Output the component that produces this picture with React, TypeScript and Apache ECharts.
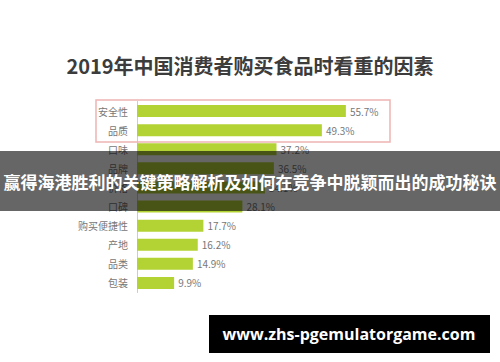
import React, { useEffect, useRef } from "react";
import * as echarts from "echarts";

const categories = ["安全性", "品质", "口味", "品牌", "价格", "口碑", "购买便捷性", "产地", "品类", "包装"];
const values = [55.7, 49.3, 37.2, 36.5, 34.1, 28.1, 17.7, 16.2, 14.9, 9.9];
const titleText = "2019年中国消费者购买食品时看重的因素";
const overlayText = "赢得海港胜利的关键策略解析及如何在竞争中脱颖而出的成功秘诀";
const footerText = "www.zhs-pgemulatorgame.com";

export default function App() {
  const ref = useRef<HTMLDivElement>(null);
  useEffect(() => {
    if (!ref.current) return;
    const chart = echarts.init(ref.current, null, { renderer: "svg" });
    chart.setOption({
      animation: false,
      backgroundColor: "#ffffff",
      title: {
        text: titleText,
        left: 245,
        top: 50,
        textAlign: "center",
        textStyle: {
          fontFamily: "Noto Sans CJK SC",
          fontWeight: "bold",
          fontSize: 20,
          color: "#3c3c3c",
        },
      },
      grid: { left: 137, top: 101.5, width: 225, height: 191 },
      xAxis: {
        type: "value",
        min: 0,
        max: 60,
        show: false,
      },
      yAxis: {
        type: "category",
        data: categories,
        inverse: true,
        axisLine: { show: true, lineStyle: { color: "#cccccc", width: 1 } },
        axisTick: { show: false },
        axisLabel: {
          margin: 9,
          fontFamily: "Noto Sans CJK SC",
          fontSize: 10,
          color: "#777777",
        },
      },
      series: [
        {
          type: "bar",
          data: values,
          barWidth: 12,
          itemStyle: { color: "#b3d335" },
          label: {
            show: true,
            position: "right",
            distance: 4,
            formatter: "{c}%",
            fontFamily: "Noto Sans CJK SC",
            fontSize: 10,
            color: "#777777",
          },
        },
      ],
      graphic: [
        {
          type: "rect",
          shape: { x: 96, y: 100, width: 294, height: 42 },
          style: { fill: "none", stroke: "#f0b4b4", lineWidth: 1.5 },
          z: 10,
        },
        {
          type: "rect",
          shape: { x: 0, y: 151, width: 500, height: 60 },
          style: { fill: "rgba(0,0,0,0.6)" },
          z: 20,
        },
        {
          type: "text",
          x: 250,
          y: 181,
          style: {
            text: overlayText,
            fill: "#ffffff",
            fontFamily: "Noto Sans CJK SC",
            fontWeight: "bold",
            fontSize: 17,
            align: "center",
            verticalAlign: "middle",
          },
          z: 21,
        },
        {
          type: "rect",
          shape: { x: 209, y: 315, width: 281, height: 38 },
          style: { fill: "#000000" },
          z: 20,
        },
        {
          type: "text",
          x: 349,
          y: 334,
          style: {
            text: footerText,
            fill: "#ffffff",
            fontFamily: "Open Sans",
            fontWeight: "bold",
            fontSize: 16,
            align: "center",
            verticalAlign: "middle",
          },
          z: 21,
        },
      ],
    });
    return () => chart.dispose();
  }, []);
  return (
    <div
      ref={ref}
      style={{ position: "fixed", left: 0, top: 0, width: 500, height: 362 }}
    />
  );
}
